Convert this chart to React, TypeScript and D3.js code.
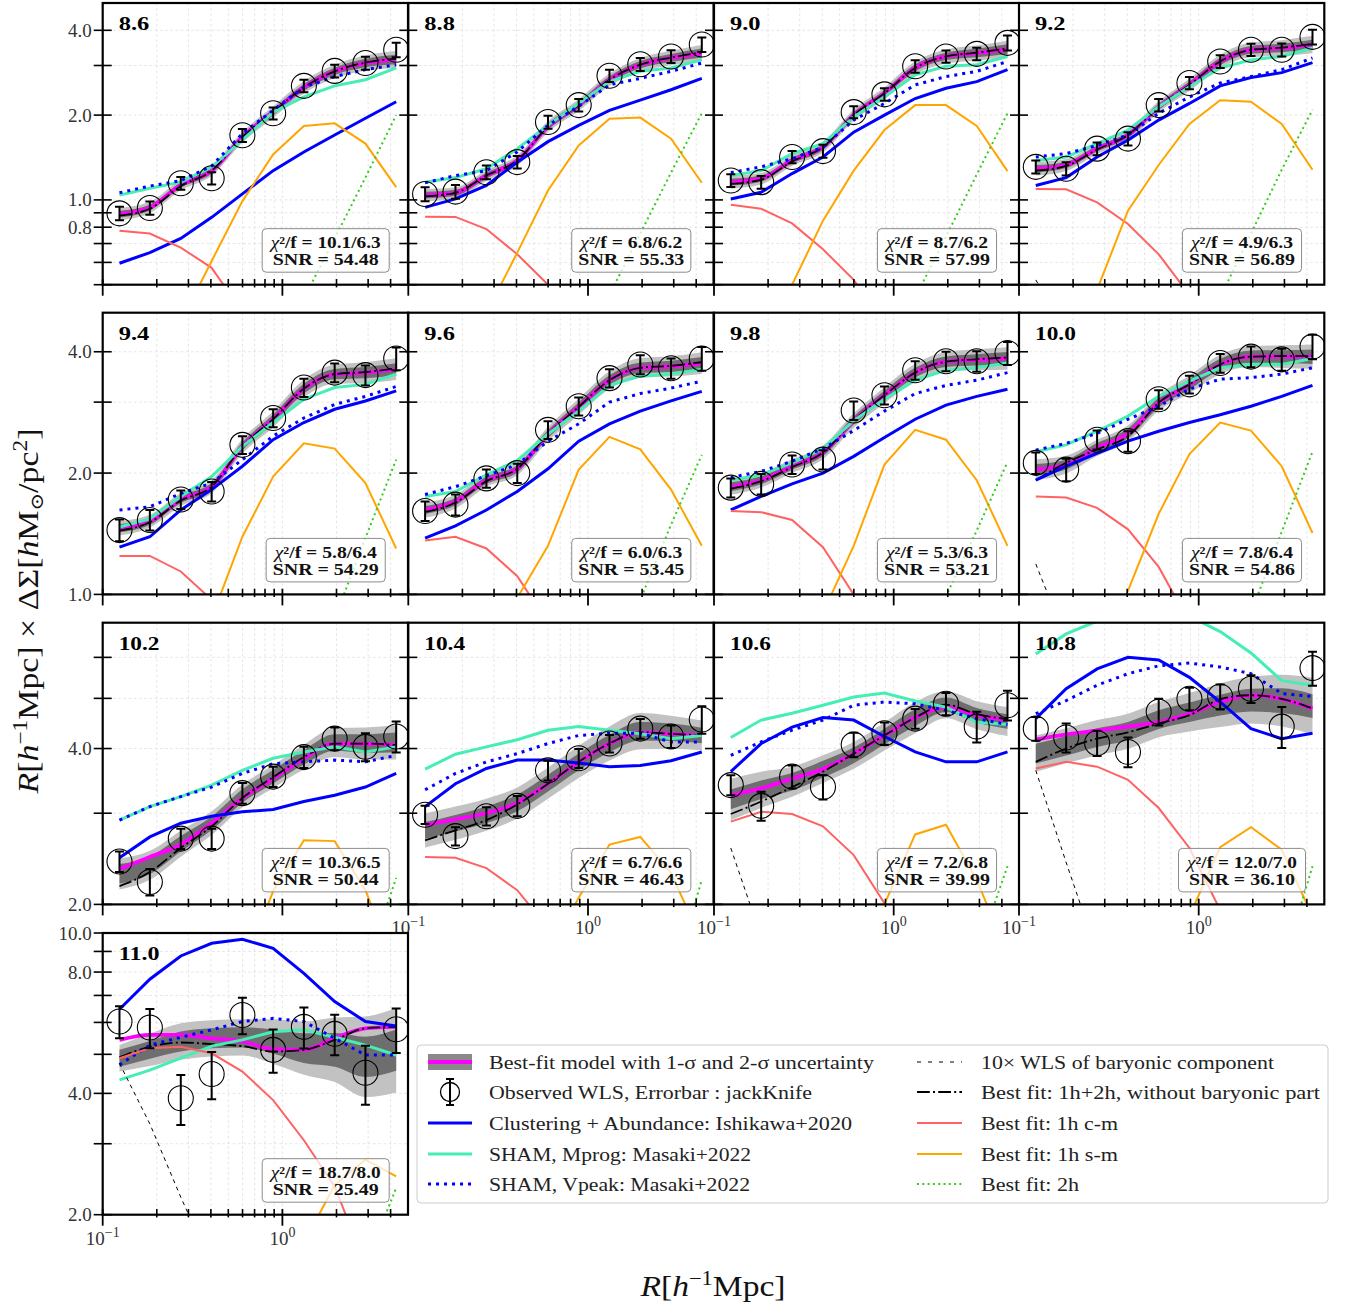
import React from 'react';
import * as d3 from 'd3';

// radial bins (h^-1 Mpc)
const R = [0.124, 0.183, 0.272, 0.404, 0.599, 0.888, 1.317, 1.954, 2.898, 4.298];
const MASS = ['8.6', '8.8', '9.0', '9.2', '9.4', '9.6', '9.8', '10.0', '10.2', '10.4', '10.6', '10.8', '11.0'];
const CHI = ['10.1/6.3', '6.8/6.2', '8.7/6.2', '4.9/6.3', '5.8/6.4', '6.0/6.3', '5.3/6.3', '7.8/6.4', '10.3/6.5', '6.7/6.6', '7.2/6.8', '12.0/7.0', '18.7/8.0'];
const SNR = ['54.48', '55.33', '57.99', '56.89', '54.29', '53.45', '53.21', '54.86', '50.44', '46.43', '39.99', '36.10', '25.49'];

const YDOM = [[0.5, 5], [1, 5], [2, 7], [2, 10]];
const YTICKS = [[0.5, 0.6, 0.7, 0.8, 0.9, 1, 2, 3, 4], [1, 2, 3, 4], [2, 3, 4, 5, 6], [2, 3, 4, 5, 6, 7, 8, 9, 10]];
const YLABELS = [[0.8, 1, 2, 4], [1, 2, 4], [2, 4], [2, 4, 8, 10]];
const XDOM = [0.1, 5.0];
const XMINOR = [0.2, 0.3, 0.4, 0.5, 0.6, 0.7, 0.8, 0.9, 2, 3, 4];
const XMAJOR = [0.1, 1];

// observed WLS
const OBS = [
  [0.896, 0.936, 1.146, 1.194, 1.696, 2.03, 2.54, 2.87, 3.06, 3.41],
  [1.05, 1.07, 1.254, 1.362, 1.89, 2.17, 2.76, 3.03, 3.23, 3.56],
  [1.172, 1.156, 1.42, 1.49, 2.05, 2.37, 2.98, 3.23, 3.30, 3.61],
  [1.31, 1.29, 1.52, 1.65, 2.17, 2.60, 3.10, 3.41, 3.41, 3.79],
  [1.444, 1.53, 1.72, 1.80, 2.35, 2.74, 3.26, 3.55, 3.50, 3.85],
  [1.61, 1.67, 1.94, 2.00, 2.56, 2.93, 3.44, 3.72, 3.64, 3.85],
  [1.84, 1.88, 2.10, 2.16, 2.86, 3.12, 3.60, 3.79, 3.79, 3.97],
  [2.12, 2.04, 2.42, 2.40, 3.05, 3.32, 3.75, 3.89, 3.83, 4.12],
  [2.42, 2.21, 2.68, 2.68, 3.28, 3.53, 3.85, 4.18, 4.03, 4.22],
  [2.98, 2.71, 2.96, 3.10, 3.63, 3.83, 4.09, 4.37, 4.22, 4.55],
  [3.40, 3.10, 3.53, 3.37, 4.07, 4.28, 4.57, 4.88, 4.41, 4.85],
  [4.37, 4.20, 4.10, 3.94, 4.71, 4.99, 5.04, 5.22, 4.41, 5.72],
  [6.03, 5.83, 3.89, 4.47, 6.26, 5.13, 5.85, 5.62, 4.50, 5.77],
];
const ERR = [
  [0.05, 0.05, 0.06, 0.06, 0.09, 0.1, 0.13, 0.15, 0.16, 0.2],
  [0.06, 0.06, 0.07, 0.07, 0.1, 0.11, 0.14, 0.16, 0.17, 0.21],
  [0.06, 0.06, 0.07, 0.08, 0.1, 0.12, 0.15, 0.16, 0.17, 0.22],
  [0.07, 0.07, 0.08, 0.09, 0.11, 0.13, 0.16, 0.17, 0.18, 0.23],
  [0.09, 0.09, 0.09, 0.1, 0.12, 0.14, 0.17, 0.19, 0.2, 0.25],
  [0.09, 0.1, 0.1, 0.11, 0.13, 0.15, 0.18, 0.2, 0.21, 0.26],
  [0.1, 0.11, 0.11, 0.12, 0.15, 0.16, 0.19, 0.21, 0.22, 0.26],
  [0.13, 0.13, 0.13, 0.14, 0.16, 0.17, 0.2, 0.23, 0.24, 0.29],
  [0.11, 0.13, 0.12, 0.12, 0.15, 0.16, 0.18, 0.21, 0.25, 0.29],
  [0.12, 0.11, 0.12, 0.14, 0.16, 0.16, 0.16, 0.19, 0.21, 0.28],
  [0.15, 0.2, 0.18, 0.18, 0.22, 0.21, 0.2, 0.24, 0.3, 0.32],
  [0.23, 0.27, 0.23, 0.26, 0.28, 0.25, 0.28, 0.32, 0.4, 0.43],
  [0.55, 0.65, 0.55, 0.6, 0.65, 0.63, 0.68, 0.65, 0.75, 0.73],
];
// best-fit model (magenta)
const FIT = [
  [0.89, 0.94, 1.13, 1.27, 1.67, 2.05, 2.51, 2.86, 3.06, 3.15],
  [1.04, 1.06, 1.22, 1.38, 1.82, 2.17, 2.67, 3.02, 3.19, 3.32],
  [1.156, 1.19, 1.38, 1.54, 2.0, 2.39, 2.94, 3.23, 3.32, 3.43],
  [1.29, 1.33, 1.52, 1.70, 2.14, 2.56, 3.10, 3.41, 3.46, 3.56],
  [1.46, 1.52, 1.72, 1.85, 2.33, 2.72, 3.24, 3.52, 3.55, 3.62],
  [1.62, 1.70, 1.92, 2.05, 2.50, 2.92, 3.40, 3.65, 3.68, 3.75],
  [1.85, 1.92, 2.08, 2.25, 2.70, 3.12, 3.55, 3.78, 3.82, 3.85],
  [2.04, 2.10, 2.31, 2.51, 2.99, 3.32, 3.72, 3.89, 3.89, 3.89],
  [2.34, 2.47, 2.61, 2.87, 3.21, 3.50, 3.83, 4.09, 4.09, 4.06],
  [2.85, 2.92, 3.0, 3.14, 3.42, 3.77, 4.09, 4.30, 4.27, 4.24],
  [3.25, 3.35, 3.50, 3.65, 3.91, 4.24, 4.59, 4.81, 4.64, 4.54],
  [4.16, 4.26, 4.33, 4.41, 4.50, 4.67, 4.92, 5.07, 4.99, 4.78],
  [5.43, 5.59, 5.59, 5.48, 5.38, 5.15, 5.13, 5.48, 5.80, 5.85],
];
// best fit without baryonic part (dash-dot)
const NOB = [
  [0.88, 0.93, 1.12, 1.27, 1.67, 2.05, 2.51, 2.86, 3.07, 3.17],
  [1.03, 1.06, 1.22, 1.38, 1.82, 2.17, 2.67, 3.02, 3.2, 3.34],
  [1.14, 1.18, 1.37, 1.54, 2.0, 2.39, 2.94, 3.23, 3.33, 3.45],
  [1.27, 1.32, 1.51, 1.70, 2.14, 2.56, 3.10, 3.41, 3.47, 3.58],
  [1.44, 1.51, 1.71, 1.85, 2.33, 2.72, 3.24, 3.52, 3.56, 3.64],
  [1.60, 1.69, 1.91, 2.05, 2.50, 2.92, 3.40, 3.65, 3.69, 3.77],
  [1.83, 1.91, 2.07, 2.25, 2.70, 3.12, 3.55, 3.78, 3.83, 3.87],
  [1.92, 2.12, 2.29, 2.47, 2.99, 3.32, 3.72, 3.89, 3.90, 3.90],
  [2.17, 2.31, 2.57, 2.83, 3.21, 3.52, 3.85, 4.09, 4.09, 4.06],
  [2.66, 2.78, 2.91, 3.12, 3.42, 3.77, 4.09, 4.30, 4.27, 4.24],
  [2.99, 3.16, 3.37, 3.61, 3.91, 4.24, 4.59, 4.86, 4.66, 4.56],
  [3.77, 4.00, 4.18, 4.30, 4.47, 4.64, 4.98, 5.07, 4.99, 4.78],
  [4.92, 5.22, 5.35, 5.30, 5.24, 5.08, 5.13, 5.43, 5.80, 5.85],
];
// centre of the uncertainty bands (null: same as best fit)
const BC = [
  null, null, null, null, null, null, null, null,
  [2.29, 2.38, 2.62, 2.87, 3.24, 3.53, 3.85, 4.11, 4.09, 4.11],
  [2.78, 2.87, 2.98, 3.14, 3.43, 3.77, 4.09, 4.32, 4.30, 4.24],
  [3.19, 3.33, 3.45, 3.65, 3.88, 4.22, 4.59, 4.86, 4.64, 4.51],
  [3.91, 4.05, 4.2, 4.32, 4.55, 4.7, 4.85, 4.96, 4.95, 4.83],
  [4.89, 5.13, 5.38, 5.48, 5.51, 5.38, 5.18, 5.13, 4.93, 5.12],
];
// 1-sigma half width (dex)
const S1 = [
  [0.012, 0.01, 0.01, 0.01, 0.01, 0.011, 0.012, 0.013, 0.015, 0.017],
  [0.012, 0.011, 0.01, 0.01, 0.011, 0.011, 0.012, 0.013, 0.014, 0.016],
  [0.012, 0.011, 0.01, 0.01, 0.011, 0.011, 0.012, 0.013, 0.015, 0.017],
  [0.013, 0.011, 0.01, 0.01, 0.011, 0.012, 0.013, 0.014, 0.015, 0.017],
  [0.01, 0.009, 0.009, 0.009, 0.01, 0.011, 0.012, 0.013, 0.014, 0.015],
  [0.01, 0.009, 0.009, 0.009, 0.01, 0.011, 0.012, 0.013, 0.014, 0.015],
  [0.011, 0.01, 0.009, 0.009, 0.01, 0.011, 0.012, 0.013, 0.014, 0.016],
  [0.014, 0.012, 0.012, 0.012, 0.012, 0.013, 0.014, 0.015, 0.016, 0.018],
  [0.019, 0.017, 0.015, 0.013, 0.013, 0.013, 0.014, 0.016, 0.018, 0.019],
  [0.016, 0.016, 0.016, 0.016, 0.016, 0.016, 0.017, 0.018, 0.017, 0.015],
  [0.019, 0.018, 0.017, 0.016, 0.015, 0.015, 0.016, 0.014, 0.014, 0.014],
  [0.019, 0.019, 0.018, 0.018, 0.018, 0.019, 0.02, 0.022, 0.024, 0.023],
  [0.021, 0.022, 0.025, 0.025, 0.025, 0.03, 0.037, 0.042, 0.05, 0.051],
];
// 2-sigma half width (dex)
const S2 = [
  [0.022, 0.02, 0.019, 0.018, 0.019, 0.02, 0.022, 0.024, 0.027, 0.03],
  [0.022, 0.02, 0.019, 0.019, 0.02, 0.021, 0.022, 0.024, 0.026, 0.029],
  [0.023, 0.021, 0.019, 0.019, 0.02, 0.021, 0.023, 0.025, 0.027, 0.03],
  [0.024, 0.021, 0.019, 0.019, 0.02, 0.022, 0.024, 0.026, 0.028, 0.031],
  [0.018, 0.016, 0.016, 0.016, 0.018, 0.02, 0.022, 0.024, 0.026, 0.027],
  [0.019, 0.017, 0.016, 0.016, 0.018, 0.02, 0.022, 0.024, 0.025, 0.027],
  [0.02, 0.018, 0.017, 0.017, 0.018, 0.02, 0.022, 0.024, 0.026, 0.028],
  [0.026, 0.022, 0.02, 0.02, 0.02, 0.022, 0.024, 0.026, 0.028, 0.03],
  [0.03, 0.028, 0.025, 0.023, 0.022, 0.022, 0.024, 0.028, 0.031, 0.033],
  [0.033, 0.032, 0.031, 0.03, 0.03, 0.031, 0.033, 0.035, 0.032, 0.029],
  [0.04, 0.035, 0.029, 0.027, 0.026, 0.027, 0.03, 0.026, 0.027, 0.028],
  [0.035, 0.034, 0.034, 0.034, 0.034, 0.037, 0.042, 0.045, 0.05, 0.055],
  [0.033, 0.04, 0.045, 0.045, 0.045, 0.055, 0.066, 0.08, 0.1, 0.105],
];
// Clustering + Abundance: Ishikawa+2020
const CL = [
  [0.596, 0.65, 0.73, 0.867, 1.05, 1.27, 1.48, 1.70, 1.95, 2.23],
  [0.941, 1.008, 1.125, 1.36, 1.61, 1.84, 2.08, 2.26, 2.46, 2.70],
  [1.008, 1.064, 1.24, 1.42, 1.74, 2.0, 2.29, 2.49, 2.63, 2.90],
  [1.125, 1.20, 1.42, 1.63, 1.92, 2.20, 2.54, 2.72, 2.83, 3.07],
  [1.31, 1.39, 1.62, 1.82, 2.08, 2.42, 2.67, 2.88, 3.02, 3.20],
  [1.38, 1.48, 1.62, 1.80, 2.05, 2.40, 2.65, 2.85, 3.02, 3.19],
  [1.62, 1.75, 1.88, 2.00, 2.20, 2.45, 2.72, 2.95, 3.10, 3.23],
  [1.92, 2.08, 2.24, 2.40, 2.54, 2.67, 2.79, 2.93, 3.10, 3.30],
  [2.46, 2.70, 2.87, 2.96, 3.02, 3.05, 3.16, 3.25, 3.37, 3.58],
  [3.09, 3.42, 3.66, 3.80, 3.80, 3.75, 3.69, 3.71, 3.79, 3.94],
  [3.61, 4.09, 4.40, 4.59, 4.54, 4.22, 3.94, 3.77, 3.77, 3.94],
  [4.57, 5.22, 5.70, 6.00, 5.93, 5.49, 4.92, 4.37, 4.18, 4.28],
  [6.47, 7.68, 8.77, 9.43, 9.65, 9.16, 7.94, 6.76, 6.03, 5.88],
];
// SHAM, Mprog: Masaki+2022
const MP = [
  [1.04, 1.10, 1.156, 1.31, 1.63, 2.05, 2.32, 2.54, 2.67, 2.94],
  [1.156, 1.20, 1.29, 1.52, 1.84, 2.20, 2.63, 2.86, 2.94, 3.14],
  [1.22, 1.27, 1.46, 1.585, 1.97, 2.32, 2.78, 2.98, 3.02, 3.23],
  [1.38, 1.42, 1.585, 1.77, 2.14, 2.52, 2.94, 3.14, 3.23, 3.46],
  [1.47, 1.54, 1.75, 1.96, 2.33, 2.67, 3.05, 3.26, 3.32, 3.52],
  [1.75, 1.80, 1.98, 2.15, 2.50, 2.85, 3.30, 3.48, 3.52, 3.62],
  [1.92, 1.98, 2.12, 2.30, 2.70, 3.05, 3.40, 3.60, 3.65, 3.75],
  [2.26, 2.35, 2.54, 2.77, 3.10, 3.38, 3.65, 3.72, 3.72, 3.85],
  [2.91, 3.09, 3.23, 3.40, 3.63, 3.83, 3.94, 4.03, 3.94, 4.03],
  [3.65, 3.90, 4.03, 4.16, 4.34, 4.41, 4.34, 4.27, 4.18, 4.24],
  [4.20, 4.54, 4.68, 4.85, 5.03, 5.12, 4.94, 4.81, 4.50, 4.45],
  [6.09, 6.66, 7.05, 7.3, 7.4, 7.2, 6.73, 6.12, 5.41, 5.30],
  [4.32, 4.57, 4.89, 5.24, 5.43, 5.69, 5.75, 5.51, 5.27, 4.98],
];
// SHAM, Vpeak: Masaki+2022
const VP = [
  [1.06, 1.12, 1.17, 1.32, 1.72, 2.08, 2.51, 2.74, 2.90, 3.02],
  [1.15, 1.22, 1.27, 1.48, 1.84, 2.15, 2.56, 2.70, 2.86, 3.06],
  [1.25, 1.31, 1.40, 1.54, 1.92, 2.20, 2.56, 2.74, 2.86, 3.10],
  [1.42, 1.46, 1.56, 1.70, 2.03, 2.32, 2.60, 2.74, 2.90, 3.19],
  [1.62, 1.65, 1.78, 1.89, 2.16, 2.47, 2.74, 2.96, 3.10, 3.28],
  [1.77, 1.85, 1.97, 2.10, 2.40, 2.65, 3.00, 3.15, 3.25, 3.38],
  [1.95, 2.02, 2.14, 2.30, 2.55, 2.85, 3.15, 3.30, 3.40, 3.55],
  [2.28, 2.37, 2.51, 2.72, 2.93, 3.23, 3.42, 3.45, 3.52, 3.65],
  [2.91, 3.09, 3.23, 3.37, 3.58, 3.74, 3.77, 3.80, 3.77, 3.88],
  [3.33, 3.58, 3.77, 3.91, 4.09, 4.24, 4.28, 4.28, 4.12, 4.12],
  [3.88, 4.12, 4.34, 4.54, 4.85, 4.92, 4.88, 4.74, 4.57, 4.45],
  [4.67, 4.95, 5.30, 5.58, 5.78, 5.85, 5.75, 5.58, 5.11, 5.04],
  [4.71, 5.27, 5.51, 5.75, 6.03, 6.14, 6.03, 5.48, 4.98, 4.98],
];
// Best fit: 1h central-matter
const CM = [
  [0.777, 0.76, 0.677, 0.574, 0.40, 0.22, 0.1, 0.04, 0.01, 0.004],
  [0.872, 0.87, 0.788, 0.641, 0.50, 0.33, 0.18, 0.08, 0.03, 0.01],
  [0.962, 0.93, 0.825, 0.668, 0.52, 0.36, 0.2, 0.09, 0.03, 0.01],
  [1.094, 1.09, 0.98, 0.821, 0.641, 0.46, 0.28, 0.14, 0.05, 0.02],
  [1.246, 1.246, 1.14, 0.97, 0.75, 0.52, 0.32, 0.16, 0.06, 0.02],
  [1.36, 1.39, 1.30, 1.11, 0.85, 0.6, 0.38, 0.2, 0.08, 0.03],
  [1.61, 1.60, 1.53, 1.31, 1.0, 0.7, 0.45, 0.24, 0.1, 0.04],
  [1.75, 1.74, 1.64, 1.45, 1.17, 0.85, 0.55, 0.3, 0.12, 0.04],
  [1.9, 1.9, 1.8, 1.6, 1.3, 0.9, 0.55, 0.3, 0.12, 0.04],
  [2.47, 2.46, 2.35, 2.13, 1.8, 1.3, 0.9, 0.5, 0.2, 0.08],
  [2.89, 3.02, 2.99, 2.83, 2.49, 2.01, 1.5, 0.9, 0.4, 0.15],
  [3.66, 3.77, 3.69, 3.48, 3.07, 2.57, 1.95, 1.2, 0.5, 0.2],
  [4.89, 5.18, 5.22, 5.03, 4.53, 3.85, 3.06, 2.35, 1.5, 0.8],
];
// Best fit: 1h satellite-matter
const SM = [
  [0.1, 0.2, 0.368, 0.607, 0.99, 1.45, 1.83, 1.87, 1.585, 1.11],
  [0.12, 0.22, 0.396, 0.65, 1.08, 1.56, 1.94, 1.96, 1.65, 1.15],
  [0.13, 0.25, 0.50, 0.844, 1.27, 1.77, 2.17, 2.17, 1.83, 1.265],
  [0.12, 0.24, 0.48, 0.916, 1.33, 1.86, 2.26, 2.23, 1.86, 1.28],
  [0.25, 0.4, 0.6, 0.875, 1.39, 1.96, 2.37, 2.30, 1.89, 1.30],
  [0.28, 0.45, 0.7, 0.98, 1.32, 2.04, 2.46, 2.29, 1.82, 1.32],
  [0.3, 0.45, 0.65, 0.9, 1.32, 2.10, 2.56, 2.42, 1.92, 1.32],
  [0.25, 0.4, 0.66, 1.02, 1.585, 2.23, 2.67, 2.55, 2.08, 1.42],
  [0.4, 0.6, 0.9, 1.2, 1.5, 2.12, 2.66, 2.65, 2.13, 1.5],
  [0.5, 0.7, 1.0, 1.3, 1.6, 2.06, 2.61, 2.70, 2.30, 1.7],
  [0.5, 0.7, 1.0, 1.3, 1.6, 2.0, 2.73, 2.85, 2.23, 1.6],
  [0.6, 0.8, 1.1, 1.4, 1.7, 1.9, 2.58, 2.82, 2.55, 1.9],
  [0.5, 0.7, 0.9, 1.1, 1.3, 1.5, 1.7, 2.37, 2.74, 2.49],
];
// Best fit: 2h
const H2 = [
  [0.01, 0.02, 0.04, 0.08, 0.14, 0.25, 0.447, 0.73, 1.20, 2.0],
  [0.01, 0.02, 0.04, 0.08, 0.15, 0.27, 0.46, 0.76, 1.25, 2.03],
  [0.01, 0.02, 0.04, 0.08, 0.15, 0.26, 0.45, 0.74, 1.23, 2.03],
  [0.01, 0.02, 0.04, 0.08, 0.15, 0.26, 0.45, 0.76, 1.28, 2.09],
  [0.01, 0.02, 0.04, 0.08, 0.15, 0.28, 0.55, 0.87, 1.38, 2.16],
  [0.01, 0.02, 0.04, 0.08, 0.16, 0.3, 0.58, 0.97, 1.49, 2.22],
  [0.01, 0.02, 0.04, 0.08, 0.16, 0.3, 0.58, 0.99, 1.44, 2.13],
  [0.01, 0.02, 0.04, 0.08, 0.16, 0.3, 0.55, 0.9, 1.43, 2.26],
  [0.02, 0.04, 0.07, 0.12, 0.2, 0.35, 0.6, 0.95, 1.5, 2.25],
  [0.02, 0.04, 0.07, 0.12, 0.2, 0.35, 0.6, 0.95, 1.4, 2.23],
  [0.02, 0.04, 0.07, 0.12, 0.2, 0.35, 0.6, 1.0, 1.6, 2.37],
  [0.02, 0.04, 0.07, 0.12, 0.2, 0.35, 0.6, 1.0, 1.5, 2.37],
  [0.02, 0.04, 0.07, 0.12, 0.2, 0.35, 0.6, 1.0, 1.5, 2.33],
];
// 10x WLS of baryonic component (innermost bins)
const BAR = [
  [0.25, 0.16, 0.1],
  [0.3, 0.19, 0.12],
  [0.4, 0.26, 0.17],
  [0.52, 0.34, 0.22],
  [0.7, 0.46, 0.3],
  [0.8, 0.52, 0.34],
  [0.95, 0.62, 0.4],
  [1.19, 0.77, 0.5],
  [1.6, 1.05, 0.7],
  [1.9, 1.25, 0.8],
  [2.57, 1.73, 1.17],
  [3.63, 2.41, 1.61],
  [4.75, 3.36, 2.21, 1.5],
];

const LEG_LEFT = [
  'Best-fit model with 1-σ and 2-σ uncertainty',
  'Observed WLS, Errorbar : jackKnife',
  'Clustering + Abundance: Ishikawa+2020',
  'SHAM, Mprog: Masaki+2022',
  'SHAM, Vpeak: Masaki+2022',
];
const LEG_RIGHT = [
  '10× WLS of baryonic component',
  'Best fit: 1h+2h, without baryonic part',
  'Best fit: 1h c-m',
  'Best fit: 1h s-m',
  'Best fit: 2h',
];

const PANEL_LEFT = [102.7, 408.3, 714, 1019];
const PANEL_TOP = [3, 312.7, 622.7, 933];
const PW = 305.3;
const PH = 281.7;

const C_MAG = '#ff00ff';
const C_BLUE = '#0000ff';
const C_CYAN = '#45eeb5';
const C_RED = '#ff6262';
const C_ORANGE = '#ffa500';
const C_GREEN = '#33cc1a';
const C_B2 = '#c2c2c2';
const C_B1 = '#6e6e6e';
const FONT = "'Liberation Serif', 'DejaVu Serif', serif";

function fmt(v: number) {
  return v.toFixed(1);
}

function Panel({ i }: { i: number }) {
  const row = Math.floor(i / 4);
  const col = i % 4;
  const left = PANEL_LEFT[col];
  const top = PANEL_TOP[row];
  const x = d3.scaleLog().domain(XDOM).range([0, PW]);
  const y = d3.scaleLog().domain(YDOM[row]).range([PH, 0]);
  const mk = (arr: number[], curve: any = d3.curveLinear) =>
    d3.line<number>().x((_, k) => x(R[k])).y((d) => y(d)).curve(curve)(arr) || '';
  const center = BC[i] || FIT[i];
  const band = (s: number[]) =>
    d3
      .area<number>()
      .x((_, k) => x(R[k]))
      .y0((d, k) => y(d / Math.pow(10, s[k])))
      .y1((d, k) => y(d * Math.pow(10, s[k])))
      .curve(d3.curveMonotoneX)(center) || '';
  const clipId = `clip-${i}`;
  const showX = i >= 9;
  const chiW = 7.9 * ('χ²/f = ' + CHI[i]).length - 0.5;
  const boxW = chiW + 9;
  const bx = 223;
  return (
    <g transform={`translate(${left},${top})`}>
      <defs>
        <clipPath id={clipId}>
          <rect x={0} y={0} width={PW} height={PH} />
        </clipPath>
      </defs>
      <rect x={0} y={0} width={PW} height={PH} fill="#fff" />
      {/* grid */}
      <g stroke="#dedede" strokeWidth={0.8} strokeDasharray="2.6 2.6">
        {[...XMINOR, 1].map((t) => (
          <line key={'gx' + t} x1={x(t)} x2={x(t)} y1={0} y2={PH} />
        ))}
        {YTICKS[row].map((t) => (
          <line key={'gy' + t} x1={0} x2={PW} y1={y(t)} y2={y(t)} />
        ))}
      </g>
      <g clipPath={`url(#${clipId})`} fill="none">
        <path d={band(S2[i])} fill={C_B2} stroke="none" />
        <path d={band(S1[i])} fill={C_B1} stroke="none" />
        <path d={mk(FIT[i], d3.curveMonotoneX)} stroke={C_MAG} strokeWidth={3.8} />
        <path d={mk(NOB[i], d3.curveMonotoneX)} stroke="#000" strokeWidth={1.8} strokeDasharray="12.8 3.2 2 3.2" />
        <path d={mk(CL[i])} stroke={C_BLUE} strokeWidth={3} />
        <path d={mk(MP[i])} stroke={C_CYAN} strokeWidth={3} />
        <path d={mk(VP[i])} stroke={C_BLUE} strokeWidth={3} strokeDasharray="3 5" />
        <path d={mk(CM[i])} stroke={C_RED} strokeWidth={2} />
        <path d={mk(SM[i])} stroke={C_ORANGE} strokeWidth={2} />
        <path d={mk(H2[i])} stroke={C_GREEN} strokeWidth={2} strokeDasharray="2 3.3" />
        <path d={mk(BAR[i])} stroke="#000" strokeWidth={1} strokeDasharray="4 4" />
        {OBS[i].map((v, k) => {
          const cx = x(R[k]);
          const e = ERR[i][k];
          const y1 = y(v - e);
          const y2 = y(v + e);
          return (
            <g key={'o' + k}>
              <circle cx={cx} cy={y(v)} r={12.5} fill="none" stroke="#000" strokeWidth={1.1} />
              <line x1={cx} x2={cx} y1={y1} y2={y2} stroke="#000" strokeWidth={2} />
              <line x1={cx - 4.5} x2={cx + 4.5} y1={y1} y2={y1} stroke="#000" strokeWidth={2} />
              <line x1={cx - 4.5} x2={cx + 4.5} y1={y2} y2={y2} stroke="#000" strokeWidth={2} />
            </g>
          );
        })}
      </g>
      {/* axes frame */}
      <rect x={0} y={0} width={PW} height={PH} fill="none" stroke="#000" strokeWidth={2.2} />
      {/* y ticks */}
      {YTICKS[row].map((t) => (
        <line key={'ty' + t} x1={-9} x2={9} y1={y(t)} y2={y(t)} stroke="#000" strokeWidth={1.6} />
      ))}
      {col === 0 &&
        YLABELS[row].map((t) => (
          <text key={'ly' + t} x={-11} y={y(t) + 6.5} textAnchor="end" fontSize={19} fill="#333" fontFamily={FONT}>
            {fmt(t)}
          </text>
        ))}
      {/* x ticks */}
      {XMINOR.map((t) => (
        <line key={'tx' + t} x1={x(t)} x2={x(t)} y1={PH - 5.7} y2={PH + 2.7} stroke="#000" strokeWidth={1.6} />
      ))}
      {XMAJOR.map((t) => (
        <line key={'tX' + t} x1={x(t)} x2={x(t)} y1={PH - 5.7} y2={PH + 11} stroke="#000" strokeWidth={1.8} />
      ))}
      {showX &&
        XMAJOR.map((t) => (
          <text key={'lx' + t} x={x(t)} y={PH + 30} textAnchor="middle" fontSize={19} fill="#333" fontFamily={FONT}>
            10
            <tspan dy={-8} fontSize={14}>
              {t < 1 ? '−1' : '0'}
            </tspan>
          </text>
        ))}
      {/* mass label */}
      <text x={16} y={27} fontSize={19} fontWeight="bold" fontFamily={FONT} textLength={MASS[i].length * 10.2} lengthAdjust="spacingAndGlyphs">
        {MASS[i]}
      </text>
      {/* stat box */}
      <rect x={bx - boxW / 2} y={PH - 56} width={boxW} height={43.5} rx={4} fill="#fff" fillOpacity={0.75} stroke="#8c8c8c" strokeWidth={1} />
      <text x={bx} y={PH - 36.5} textAnchor="middle" fontSize={16} fontFamily={FONT} textLength={chiW - 8} lengthAdjust="spacingAndGlyphs" fill="#111">
        <tspan fontStyle="italic">χ</tspan>
        <tspan fontWeight="bold">{'²/f = ' + CHI[i]}</tspan>
      </text>
      <text x={bx} y={PH - 19.5} textAnchor="middle" fontSize={16} fontWeight="bold" fontFamily={FONT} textLength={106} lengthAdjust="spacingAndGlyphs" fill="#111">
        {'SNR = ' + SNR[i]}
      </text>
    </g>
  );
}

function Legend() {
  const lx = 417;
  const ly = 1045;
  const rows = [1062, 1092, 1123, 1154, 1184];
  const leftW = [385, 323, 363, 262, 261];
  const rightW = [293, 339, 137, 137, 98];
  const h1 = [428, 472];
  const h2 = [917, 962];
  return (
    <g fontFamily={FONT}>
      <rect x={lx} y={ly} width={911} height={158} rx={4} fill="#fff" stroke="#cccccc" strokeWidth={1} />
      {/* handles left */}
      <rect x={h1[0]} y={rows[0] - 8} width={h1[1] - h1[0]} height={16} fill="#8a8a8a" />
      <line x1={h1[0]} x2={h1[1]} y1={rows[0]} y2={rows[0]} stroke={C_MAG} strokeWidth={4} />
      <g stroke="#000" fill="none">
        <circle cx={450} cy={rows[1]} r={9.5} strokeWidth={1.3} />
        <line x1={450} x2={450} y1={rows[1] - 13} y2={rows[1] + 13} strokeWidth={2} />
        <line x1={446} x2={454} y1={rows[1] - 13} y2={rows[1] - 13} strokeWidth={2} />
        <line x1={446} x2={454} y1={rows[1] + 13} y2={rows[1] + 13} strokeWidth={2} />
      </g>
      <line x1={h1[0]} x2={h1[1]} y1={rows[2]} y2={rows[2]} stroke={C_BLUE} strokeWidth={3} />
      <line x1={h1[0]} x2={h1[1]} y1={rows[3]} y2={rows[3]} stroke={C_CYAN} strokeWidth={3} />
      <line x1={h1[0]} x2={h1[1]} y1={rows[4]} y2={rows[4]} stroke={C_BLUE} strokeWidth={3} strokeDasharray="3 5" />
      {/* handles right */}
      <line x1={h2[0]} x2={h2[1]} y1={rows[0]} y2={rows[0]} stroke="#000" strokeWidth={1} strokeDasharray="4 7" />
      <line x1={h2[0]} x2={h2[1]} y1={rows[1]} y2={rows[1]} stroke="#000" strokeWidth={2} strokeDasharray="12.8 3.2 2 3.2" />
      <line x1={h2[0]} x2={h2[1]} y1={rows[2]} y2={rows[2]} stroke={C_RED} strokeWidth={2} />
      <line x1={h2[0]} x2={h2[1]} y1={rows[3]} y2={rows[3]} stroke={C_ORANGE} strokeWidth={2} />
      <line x1={h2[0]} x2={h2[1]} y1={rows[4]} y2={rows[4]} stroke={C_GREEN} strokeWidth={2} strokeDasharray="2 3.3" />
      {LEG_LEFT.map((t, k) => (
        <text key={'ll' + k} x={489} y={rows[k] + 6.5} fontSize={19} fill="#222" textLength={leftW[k]} lengthAdjust="spacingAndGlyphs">
          {t}
        </text>
      ))}
      {LEG_RIGHT.map((t, k) => (
        <text key={'lr' + k} x={981} y={rows[k] + 6.5} fontSize={19} fill="#222" textLength={rightW[k]} lengthAdjust="spacingAndGlyphs">
          {t}
        </text>
      ))}
    </g>
  );
}

export default function App() {
  return (
    <svg
      width={1346}
      height={1306}
      viewBox="0 0 1346 1306"
      style={{ position: 'absolute', left: 0, top: 0, background: '#fff' }}
      fontFamily={FONT}
    >
      <rect x={0} y={0} width={1346} height={1306} fill="#fff" />
      {MASS.map((_, i) => (
        <Panel key={i} i={i} />
      ))}
      <Legend />
      {/* y axis label */}
      <text transform="translate(38,611) rotate(-90)" textAnchor="middle" fontSize={29} fill="#111" textLength={365} lengthAdjust="spacingAndGlyphs">
        <tspan fontStyle="italic">R</tspan>
        <tspan>[</tspan>
        <tspan fontStyle="italic">h</tspan>
        <tspan dy={-11} fontSize={20}>−1</tspan>
        <tspan dy={11}>Mpc] × ΔΣ[</tspan>
        <tspan fontStyle="italic">h</tspan>
        <tspan>M</tspan>
        <tspan dy={5} fontSize={18}>⊙</tspan>
        <tspan dy={-5}>/pc</tspan>
        <tspan dy={-11} fontSize={20}>2</tspan>
        <tspan dy={11}>]</tspan>
      </text>
      {/* x axis label */}
      <text x={713} y={1296} textAnchor="middle" fontSize={30} fill="#111" textLength={145} lengthAdjust="spacingAndGlyphs">
        <tspan fontStyle="italic">R</tspan>
        <tspan>[</tspan>
        <tspan fontStyle="italic">h</tspan>
        <tspan dy={-11} fontSize={20}>−1</tspan>
        <tspan dy={11}>Mpc]</tspan>
      </text>
    </svg>
  );
}
